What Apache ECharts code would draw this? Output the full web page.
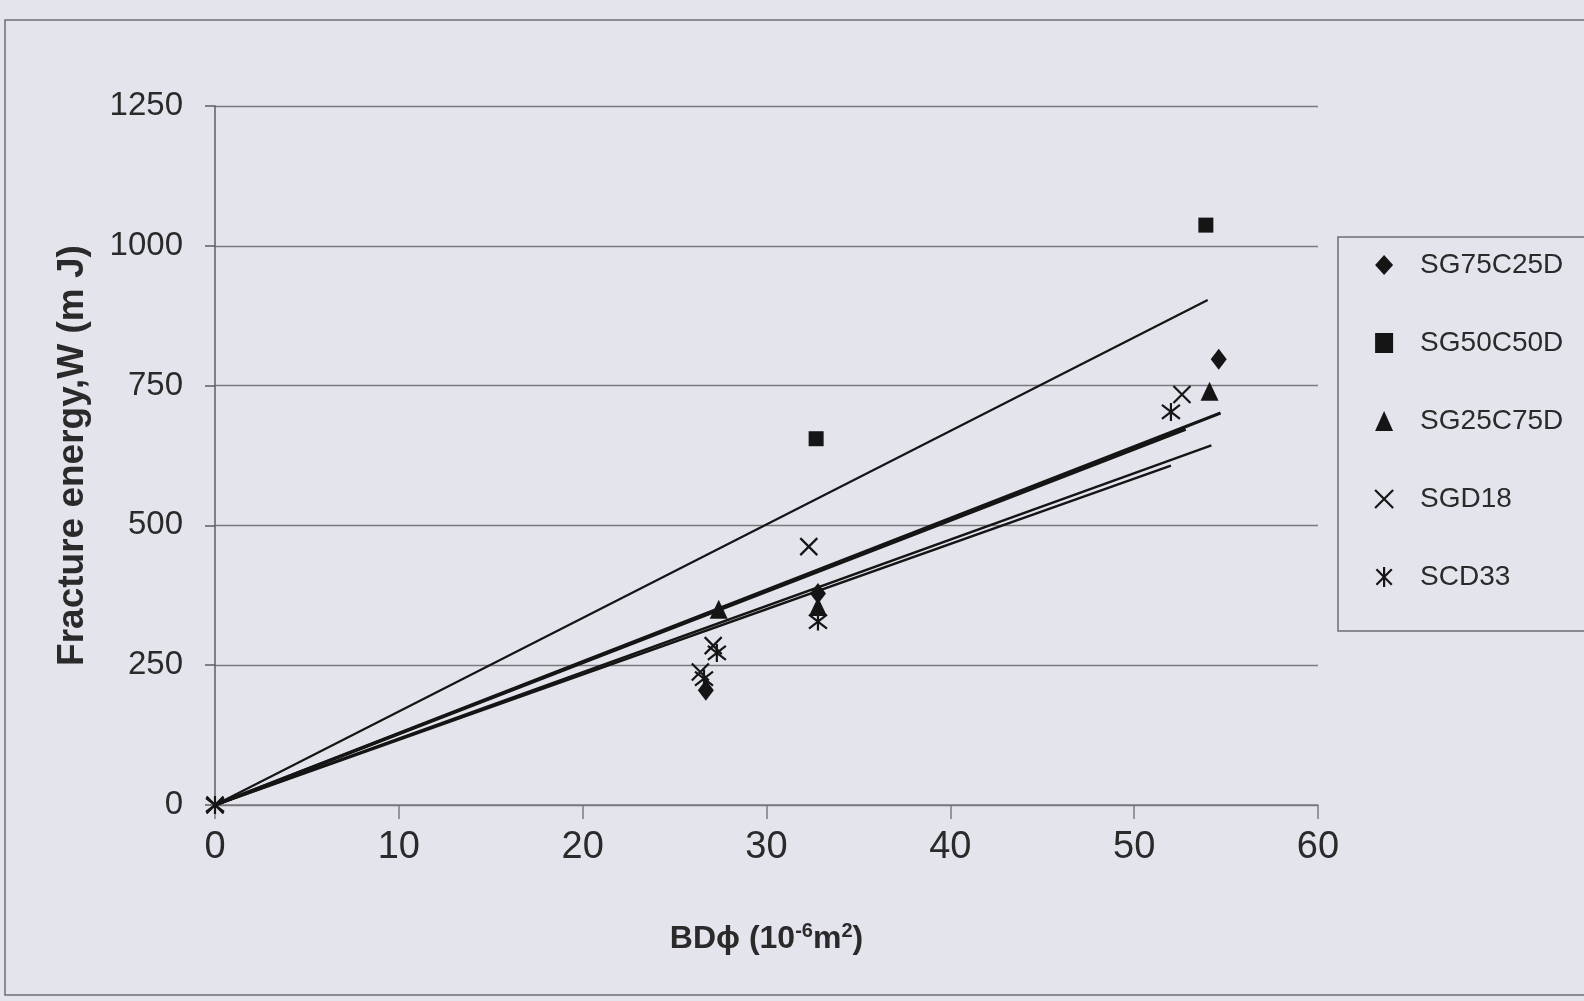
<!DOCTYPE html>
<html><head><meta charset="utf-8">
<script src="https://cdn.jsdelivr.net/npm/echarts@6/dist/echarts.min.js"></script>
<style>html,body{margin:0;padding:0;background:#e4e5ec;} #c{width:1584px;height:1001px;}</style>
</head><body><div id="c"></div>
<script>
// ---- data ----
const seriesNames = ['SG75C25D', 'SG50C50D', 'SG25C75D', 'SGD18', 'SCD33'];
const sg75c25d = [[26.7, 205], [32.8, 378], [54.6, 797]];
const sg50c50d = [[32.7, 655], [53.9, 1037]];
const sg25c75d = [[27.4, 350], [32.8, 355], [54.1, 740]];
const sgd18 = [[0, 0], [27.1, 285], [26.4, 238], [32.3, 462], [52.6, 734]];
const scd33 = [[0, 0], [27.3, 272], [26.6, 226], [32.8, 328], [52.0, 703]];
// linear trend lines (start and end points)
const trendSG75C25D = [[0, 0], [54.7, 701]];
const trendSG50C50D = [[0, 0], [54.0, 903]];
const trendSG25C75D = [[0, 0], [54.2, 643]];
const trendSGD18 = [[0, 0], [52.8, 672]];
const trendSCD33 = [[0, 0], [52.0, 607]];
const xTicks = [0, 10, 20, 30, 40, 50, 60];
const yTicks = [0, 250, 500, 750, 1000, 1250];

// ---- chart ----
const ink = '#151515';
const xPath = 'path://M0,0L10,10M10,0L0,10';
const starPath = 'path://M0,0L10,10M10,0L0,10M5,-1.5L5,11.5';
const markers = [
  { data: sg75c25d, symbol: 'diamond', size: [16, 21], stroke: false },
  { data: sg50c50d, symbol: 'rect', size: 15, stroke: false },
  { data: sg25c75d, symbol: 'triangle', size: [18, 19], stroke: false },
  { data: sgd18, symbol: xPath, size: 17, stroke: true },
  { data: scd33, symbol: starPath, size: 18, stroke: true }
];
const trends = [
  { data: trendSG75C25D, w: 3 },
  { data: trendSG50C50D, w: 2.2 },
  { data: trendSG25C75D, w: 2.4 },
  { data: trendSGD18, w: 3.2 },
  { data: trendSCD33, w: 2.4 }
];
function itemStyleFor(m) {
  return m.stroke
    ? { color: 'rgba(0,0,0,0)', borderColor: ink, borderWidth: 2.2, opacity: 1 }
    : { color: ink, borderWidth: 0, opacity: 1 };
}
const series = [];
trends.forEach((t, i) => series.push({
  type: 'line', name: 'trend' + i, data: t.data, showSymbol: false, silent: true,
  lineStyle: { color: ink, width: t.w }, z: 2
}));
markers.forEach((m, i) => series.push({
  type: 'scatter', name: seriesNames[i], data: m.data, symbol: m.symbol,
  symbolSize: m.size, itemStyle: itemStyleFor(m), z: 5
}));

const chart = echarts.init(document.getElementById('c'));
chart.setOption({
  backgroundColor: '#e4e5ec',
  animation: false,
  grid: { left: 215, right: 266, top: 106, bottom: 196 },
  graphic: [
    { type: 'rect', shape: { x: 5, y: 20, width: 1620, height: 975 }, style: { fill: 'none', stroke: '#6e6e72', lineWidth: 1.5 }, silent: true },
    { type: 'rect', shape: { x: 1338, y: 237, width: 300, height: 394 }, style: { fill: 'none', stroke: '#6e6e72', lineWidth: 1.5 }, silent: true }
  ],
  legend: {
    orient: 'vertical', left: 1369, top: 246, itemGap: 50, itemWidth: 18, itemHeight: 20,
    padding: 5,
    textStyle: { fontFamily: 'Liberation Sans, Arial, sans-serif', fontSize: 28, color: '#2a2a2a', padding: [0, 0, 0, 22] },
    data: seriesNames.map((n, i) => ({
      name: n, icon: markers[i].symbol, itemStyle: itemStyleFor(markers[i])
    }))
  },
  xAxis: {
    type: 'value', min: xTicks[0], max: xTicks[xTicks.length - 1], interval: xTicks[1] - xTicks[0],
    axisLine: { show: true, onZero: false, lineStyle: { color: '#7a7a7e', width: 1.5 } },
    axisTick: { show: true, length: 14, lineStyle: { color: '#7a7a7e', width: 1.5 } },
    splitLine: { show: false },
    axisLabel: { fontFamily: 'Liberation Sans, Arial, sans-serif', fontSize: 38, color: '#2a2a2a', margin: 24 },
    name: '{b|BDϕ (10}{s|-6}{b|m}{s|2}{b|)}',
    nameLocation: 'middle', nameGap: 116,
    nameTextStyle: {
      rich: {
        b: { fontFamily: 'Liberation Sans, sans-serif', fontWeight: 'bold', fontSize: 32, color: '#2a2a2a', verticalAlign: 'bottom' },
        s: { fontFamily: 'Liberation Sans, sans-serif', fontWeight: 'bold', fontSize: 20, color: '#2a2a2a', verticalAlign: 'top', padding: [0, 0, 14, 0] }
      }
    }
  },
  yAxis: {
    type: 'value', min: yTicks[0], max: yTicks[yTicks.length - 1], interval: yTicks[1] - yTicks[0],
    axisLine: { show: true, lineStyle: { color: '#5e5e62', width: 1.5 } },
    axisTick: { show: true, length: 10, lineStyle: { color: '#5e5e62', width: 1.5 } },
    splitLine: { show: true, lineStyle: { color: '#7a7a7e', width: 1.3 } },
    axisLabel: { fontFamily: 'Liberation Sans, Arial, sans-serif', fontSize: 33, color: '#2a2a2a', margin: 32, formatter: v => String(v) },
    name: 'Fracture energy,W (m J)',
    nameLocation: 'middle', nameGap: 124, nameRotate: 90,
    nameTextStyle: { fontFamily: 'Liberation Sans, Arial, sans-serif', fontWeight: 'bold', fontSize: 37, color: '#2a2a2a' }
  },
  series: series
});
</script>
</body></html>
